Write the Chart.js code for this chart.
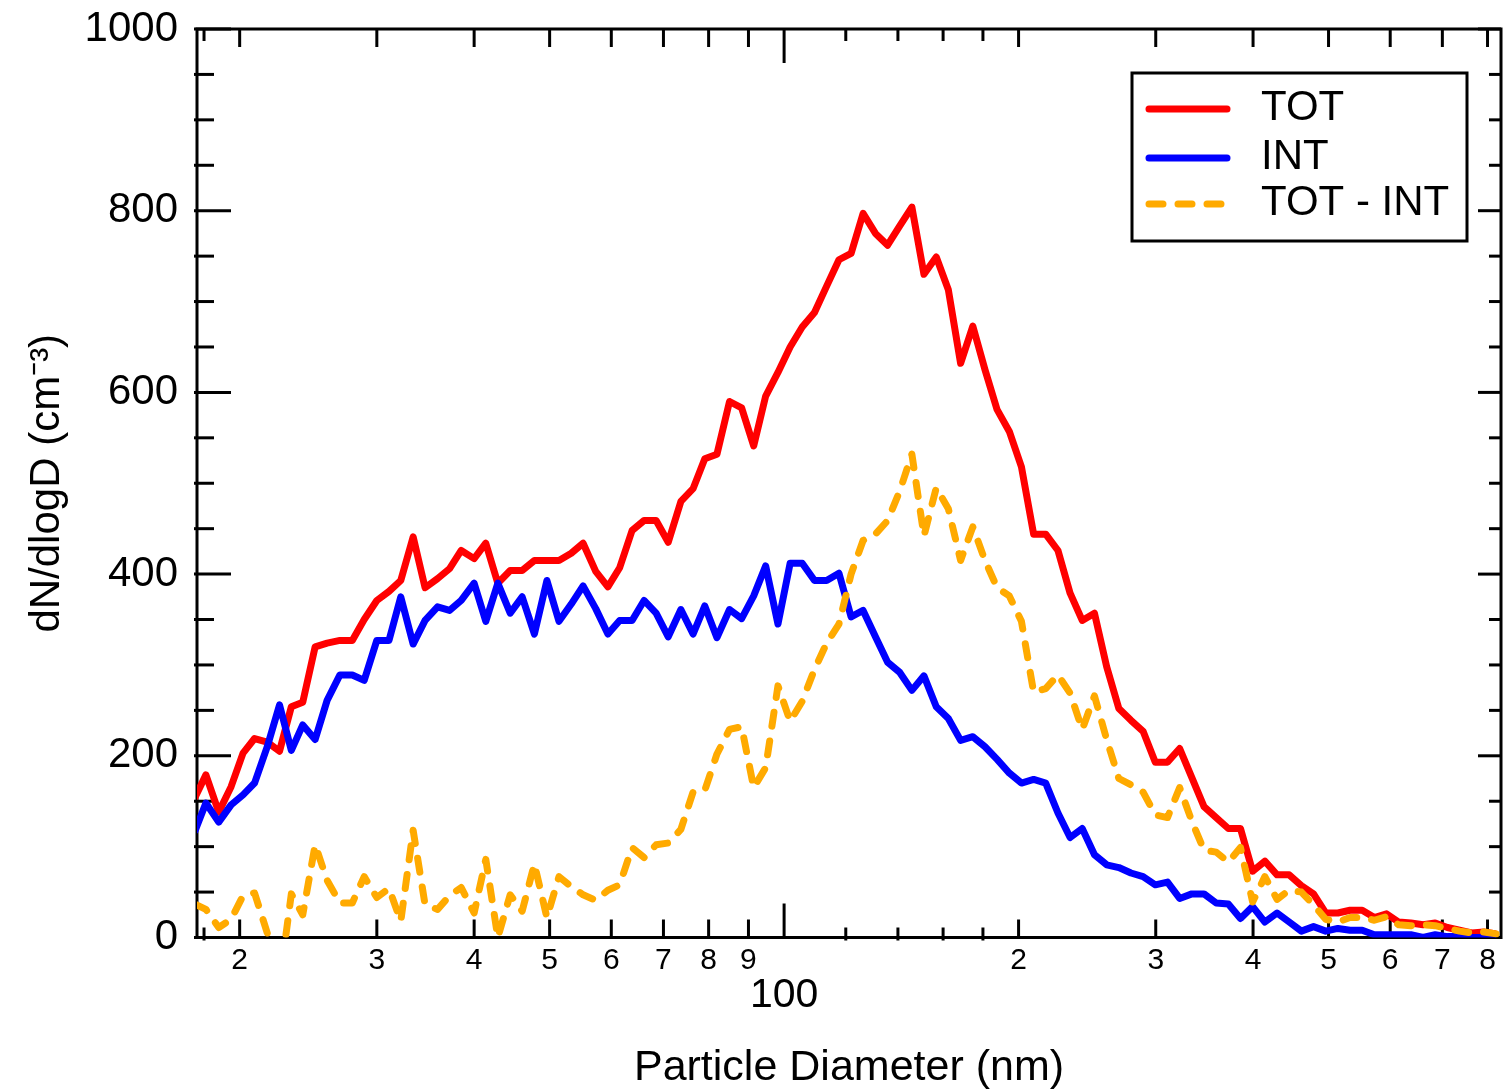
<!DOCTYPE html>
<html>
<head>
<meta charset="utf-8">
<script src="https://cdn.jsdelivr.net/npm/chart.js@4.4.1/dist/chart.umd.min.js"></script>
<style>
html,body{margin:0;padding:0;background:#fff;}
canvas{display:block;}
</style>
</head>
<body>
<canvas id="c" width="1503" height="1091"></canvas>
<script>
// ---------- data ----------
const diameters = [17.5,18.1,18.8,19.5,20.2,20.9,21.7,22.5,23.3,24.1,
  25.0,25.9,26.9,27.9,28.9,30.0,31.1,32.2,33.4,34.6,
  35.9,37.2,38.5,40.0,41.4,42.9,44.5,46.1,47.8,49.6,
  51.4,53.3,55.2,57.3,59.4,61.5,63.8,66.1,68.5,71.0,
  73.7,76.4,79.1,82.0,85.1,88.2,91.4,94.7,98.2,101.8,
  105.5,109.4,113.4,117.6,121.9,126.3,131.0,135.8,140.7,145.9,
  151.2,156.8,162.5,168.5,174.7,181.1,187.7,194.6,201.7,209.1,
  216.7,224.7,232.9,241.4,250.3,259.5,269.0,278.8,289.0,299.6,
  310.6,322.0,333.8,346.0,358.7,371.8,385.4,399.5,414.2,429.4,
  445.1,461.4,478.3,495.8,514.0,532.8,552.3,572.5,593.5,615.3,
  637.8,661.2,685.4,710.5,736.5,763.5,791.5,820.5];

const totValues = [153,179,138,166,203,219,215,205,254,259,
  320,324,327,327,350,371,381,393,441,385,
  395,406,426,417,434,390,404,404,415,415,
  415,423,434,403,386,407,448,459,459,435,
  480,494,527,532,590,583,541,596,622,650,
  672,688,717,746,753,797,775,762,783,804,
  730,749,713,632,673,625,581,557,518,444,
  444,426,379,349,357,298,252,239,227,193,
  193,208,176,144,132,120,120,73,84,69,
  69,57,48,27,27,30,30,22,26,17,
  16,14,16,11,8,5,6,4];

const intValues = [116,148,127,146,157,170,210,256,206,234,
  218,261,289,289,283,327,327,375,323,349,
  364,360,371,390,348,390,357,375,334,393,
  348,367,387,362,334,349,349,371,357,331,
  361,334,365,330,361,351,376,409,345,412,
  412,393,393,401,353,360,331,303,292,272,
  288,254,241,217,221,210,196,181,170,174,
  170,137,110,120,91,80,77,71,67,58,
  61,43,48,48,38,37,21,34,17,27,
  17,7,12,7,10,8,8,3,3,3,
  3,0,3,1,1,0,0,0];

const diffValues = [37,31,11,20,46,49,5,-51,48,25,
  102,63,38,38,67,44,54,18,118,36,
  31,46,55,27,86,0,47,29,81,22,
  67,56,47,41,52,58,99,88,102,104,
  119,160,162,202,229,232,165,187,277,238,
  260,295,324,345,400,437,444,459,491,532,
  442,495,472,415,452,415,385,376,348,270,
  274,289,269,229,266,218,175,168,160,135,
  132,165,128,96,94,83,99,39,67,42,
  52,50,36,20,17,22,22,19,23,14,
  13,14,13,10,7,5,6,4];

const seriesLabels = ['TOT', 'INT', 'TOT - INT'];

const xTickValues = [20,30,40,50,60,70,80,90,100,200,300,400,500,600,700,800];
const xTickLabels = ['2','3','4','5','6','7','8','9','100','2','3','4','5','6','7','8'];
const xMajorTicks = [100];
const xMinorTicks = [18,120,140,160,180];
const yTickValues = [0,200,400,600,800,1000];
const yTickLabels = ['0','200','400','600','800','1000'];
const yMinorTicks = [50,100,150,250,300,350,450,500,550,650,700,750,850,900,950];

const xTitle = 'Particle Diameter (nm)';
const yTitle = 'dN/dlogD (cm\u207B\u00B3)';

// ---------- styling ----------
const FONT = '"Liberation Sans", Arial, Helvetica, sans-serif';
const LINE_W = 7;

const framePlugin = {
  id: 'frame',
  beforeDatasetsDraw(chart) {
    const {ctx, chartArea: a, scales: {x, y}} = chart;
    ctx.save();
    ctx.strokeStyle = '#000';
    ctx.lineWidth = 3;
    ctx.lineCap = 'butt';
    const seg = (x1, y1, x2, y2) => { ctx.beginPath(); ctx.moveTo(x1, y1); ctx.lineTo(x2, y2); ctx.stroke(); };
    yTickValues.forEach(v => {
      const p = y.getPixelForValue(v);
      seg(a.left - 3, p, a.left + 34, p);
      seg(a.right, p, a.right - 23, p);
    });
    yMinorTicks.forEach(v => {
      const p = y.getPixelForValue(v);
      seg(a.left - 3, p, a.left + 17, p);
      seg(a.right, p, a.right - 12, p);
    });
    xTickValues.forEach(v => {
      const p = x.getPixelForValue(v);
      const len = xMajorTicks.includes(v) ? 34 : 18;
      seg(p, a.bottom, p, a.bottom - len);
      seg(p, a.top, p, a.top + len);
    });
    xMinorTicks.forEach(v => {
      const p = x.getPixelForValue(v);
      seg(p, a.bottom + 3, p, a.bottom - 10);
      seg(p, a.top, p, a.top + 12);
    });
    ctx.strokeRect(a.left, a.top, a.right - a.left, a.bottom - a.top);
    ctx.restore();
  }
};

const legendPlugin = {
  id: 'boxLegend',
  afterDatasetsDraw(chart) {
    const {ctx, chartArea: a} = chart;
    const left = a.right - 369, top = a.top + 44, w = 335, h = 168;
    const rows = [36, 85, 131];
    ctx.save();
    ctx.fillStyle = '#fff';
    ctx.fillRect(left, top, w, h);
    ctx.strokeStyle = '#000';
    ctx.lineWidth = 3;
    ctx.strokeRect(left, top, w, h);
    chart.data.datasets.forEach((ds, i) => {
      const yy = top + rows[i];
      ctx.beginPath();
      ctx.strokeStyle = ds.borderColor;
      ctx.lineWidth = LINE_W;
      ctx.lineCap = 'round';
      ctx.setLineDash(ds.borderDash || []);
      ctx.moveTo(left + 17, yy);
      ctx.lineTo(left + 95, yy);
      ctx.stroke();
      ctx.setLineDash([]);
      ctx.fillStyle = '#000';
      ctx.font = '42px ' + FONT;
      ctx.textBaseline = 'middle';
      ctx.textAlign = 'left';
      ctx.fillText(ds.label, left + 129, yy - 1);
    });
    ctx.restore();
  }
};

const toPoints = vals => diameters.map((d, i) => ({x: d, y: vals[i]}));

new Chart(document.getElementById('c'), {
  type: 'line',
  data: {
    datasets: [
      {label: seriesLabels[0], data: toPoints(totValues), borderColor: '#FF0000', borderWidth: LINE_W, order: 3},
      {label: seriesLabels[1], data: toPoints(intValues), borderColor: '#0000FF', borderWidth: LINE_W, order: 2},
      {label: seriesLabels[2], data: toPoints(diffValues), borderColor: '#FFAA00', borderWidth: LINE_W,
       borderDash: [14, 15], borderCapStyle: 'round', order: 1}
    ]
  },
  options: {
    responsive: false,
    animation: false,
    devicePixelRatio: 1,
    layout: {padding: {top: 29, right: 2, left: 0, bottom: 0}},
    elements: {
      point: {radius: 0, hoverRadius: 0},
      line: {tension: 0, borderJoinStyle: 'round', fill: false}
    },
    plugins: {legend: {display: false}, tooltip: {enabled: false}},
    scales: {
      x: {
        type: 'logarithmic',
        min: 17.63,
        max: 832.5,
        grid: {display: false, drawTicks: false},
        border: {display: false},
        afterBuildTicks: s => { s.ticks = xTickValues.map(v => ({value: v})); },
        afterFit: s => { s.height = 153.5; s.paddingLeft = 0; s.paddingRight = 0; },
        ticks: {
          autoSkip: false, maxRotation: 0, minRotation: 0, padding: 5.5, color: '#000',
          callback: v => {
            const i = xTickValues.indexOf(v);
            const l = i >= 0 ? xTickLabels[i] : '';
            return xMajorTicks.includes(v) ? ['', l] : l;
          },
          font: c => (c.tick && xMajorTicks.includes(c.tick.value))
            ? {family: FONT, size: 41, lineHeight: 0.85}
            : {family: FONT, size: 30, lineHeight: 1.2}
        },
        title: {display: true, text: xTitle, color: '#000',
                font: {family: FONT, size: 43, lineHeight: 1}, padding: {top: 0, bottom: 1}}
      },
      y: {
        type: 'linear',
        min: 0,
        max: 1000,
        grid: {display: false, drawTicks: false},
        border: {display: false},
        afterBuildTicks: s => { s.ticks = yTickValues.map(v => ({value: v})); },
        afterFit: s => { s.width = 197; s.paddingTop = 0; s.paddingBottom = 0; },
        ticks: {
          padding: 19, color: '#000', font: {family: FONT, size: 42},
          callback: v => yTickLabels[yTickValues.indexOf(v)]
        },
        title: {display: true, text: yTitle, color: '#000',
                font: {family: FONT, size: 42, lineHeight: 1}, padding: {top: 26, bottom: 0}}
      }
    }
  },
  plugins: [framePlugin, legendPlugin]
});
</script>
</body>
</html>
